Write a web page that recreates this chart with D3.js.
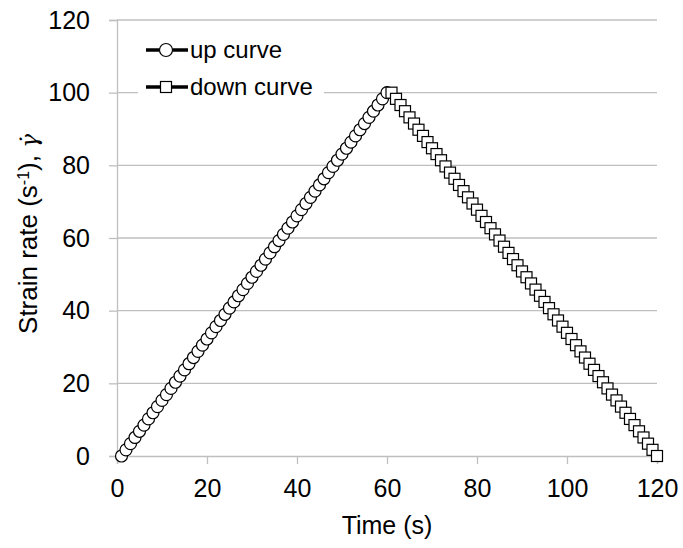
<!DOCTYPE html>
<html>
<head>
<meta charset="utf-8">
<script src="https://cdn.jsdelivr.net/npm/d3@7/dist/d3.min.js"></script>
<style>
  html, body { margin: 0; padding: 0; background: #fff; }
  svg { display: block; font-family: Arial, "Liberation Sans", sans-serif; }
</style>
</head>
<body>
<svg id="chart" width="683" height="548"></svg>
<script>
// Ramp test: shear rate ramps up to 100 s^-1 over 60 s, then back down.
const upTime = [1,2,3,4,5,6,7,8,9,10,11,12,13,14,15,16,17,18,19,20,21,22,23,24,25,26,27,28,29,30,
  31,32,33,34,35,36,37,38,39,40,41,42,43,44,45,46,47,48,49,50,51,52,53,54,55,56,57,58,59,60];
const upRate = [0,1.7,3.4,5.1,6.8,8.5,10.2,11.9,13.6,15.3,16.9,18.6,20.3,22,23.7,25.4,27.1,28.8,30.5,32.2,
  33.9,35.6,37.3,39,40.7,42.4,44.1,45.8,47.5,49.2,50.8,52.5,54.2,55.9,57.6,59.3,61,62.7,64.4,66.1,
  67.8,69.5,71.2,72.9,74.6,76.3,78,79.7,81.4,83.1,84.7,86.4,88.1,89.8,91.5,93.2,94.9,96.6,98.3,100];
const downTime = [61,62,63,64,65,66,67,68,69,70,71,72,73,74,75,76,77,78,79,80,81,82,83,84,85,86,87,88,89,90,
  91,92,93,94,95,96,97,98,99,100,101,102,103,104,105,106,107,108,109,110,111,112,113,114,115,116,117,118,119,120];
const downRate = [100,98.3,96.6,94.9,93.2,91.5,89.8,88.1,86.4,84.7,83.1,81.4,79.7,78,76.3,74.6,72.9,71.2,69.5,67.8,
  66.1,64.4,62.7,61,59.3,57.6,55.9,54.2,52.5,50.8,49.2,47.5,45.8,44.1,42.4,40.7,39,37.3,35.6,33.9,
  32.2,30.5,28.8,27.1,25.4,23.7,22,20.3,18.6,16.9,15.3,13.6,11.9,10.2,8.5,6.8,5.1,3.4,1.7,0];
const xTicks = [0,20,40,60,80,100,120];
const yTicks = [0,20,40,60,80,100,120];
const seriesNames = ["up curve", "down curve"];

const svg = d3.select("#chart");
const x = d3.scaleLinear().domain([0,120]).range([117,657]);
const y = d3.scaleLinear().domain([0,120]).range([456,20]);
const gridColor = "#bfbfbf";
const font = 25;

// horizontal gridlines
svg.append("g").selectAll("line").data(yTicks.filter(d => d > 0)).join("line")
  .attr("x1", x(0)).attr("x2", x(120))
  .attr("y1", d => y(d)).attr("y2", d => y(d))
  .attr("stroke", gridColor).attr("stroke-width", 1.3);

// y axis
const yAxis = svg.append("g").attr("transform", `translate(${x(0)},0)`)
  .call(d3.axisLeft(y).tickValues(yTicks).tickSize(8).tickPadding(19));
// x axis
const xAxis = svg.append("g").attr("transform", `translate(0,${y(0)})`)
  .call(d3.axisBottom(x).tickValues(xTicks).tickSize(8).tickPadding(15));
[yAxis, xAxis].forEach(g => {
  g.select(".domain").attr("stroke", gridColor).attr("stroke-width", 1.3);
  g.selectAll(".tick line").attr("stroke", gridColor).attr("stroke-width", 1.3);
  g.selectAll(".tick text").attr("fill", "#000").style("font-size", font + "px")
    .style("font-family", "Arial, 'Liberation Sans', sans-serif");
});

// axis titles
svg.append("text").attr("x", x(60)).attr("y", 534).attr("text-anchor", "middle")
  .style("font-size", font + "px").text("Time (s)");

const yt = svg.append("text")
  .attr("transform", `translate(37,${234}) rotate(-90)`)
  .attr("text-anchor", "middle").style("font-size", "26px");
yt.append("tspan").text("Strain rate (s");
yt.append("tspan").attr("baseline-shift", "super").style("font-size", "16px").text("-1");
yt.append("tspan").text("), ");
yt.append("tspan").style("font-style", "italic").style("font-family", "'DejaVu Serif', serif")
  .style("font-size", "23px").text("\u03B3\u0307");

// series
const up = upTime.map((t, i) => ({t, v: upRate[i]}));
const down = downTime.map((t, i) => ({t, v: downRate[i]}));
const line = d3.line().x(d => x(d.t)).y(d => y(d.v));

function drawSeries(data, shape) {
  const g = svg.append("g");
  g.append("path").datum(data).attr("d", line)
    .attr("fill", "none").attr("stroke", "#000").attr("stroke-width", 2.5);
  if (shape === "circle") {
    g.selectAll("circle").data(data).join("circle")
      .attr("cx", d => x(d.t)).attr("cy", d => y(d.v)).attr("r", 6)
      .attr("fill", "#fff").attr("stroke", "#000").attr("stroke-width", 1.2);
  } else {
    g.selectAll("rect").data(data).join("rect")
      .attr("x", d => x(d.t) - 5.5).attr("y", d => y(d.v) - 5.5)
      .attr("width", 11).attr("height", 11)
      .attr("fill", "#fff").attr("stroke", "#000").attr("stroke-width", 1.2);
  }
}
drawSeries(up, "circle");
drawSeries(down, "square");

// legend
const lg = svg.append("g");
lg.append("rect").attr("x", 138).attr("y", 30).attr("width", 186).attr("height", 76).attr("fill", "#fff");
seriesNames.forEach((name, i) => {
  const cy = 50 + i * 37;
  lg.append("line").attr("x1", 146).attr("x2", 188).attr("y1", cy).attr("y2", cy)
    .attr("stroke", "#000").attr("stroke-width", 3.5);
  if (i === 0) {
    lg.append("circle").attr("cx", 166).attr("cy", cy).attr("r", 6.5)
      .attr("fill", "#fff").attr("stroke", "#000").attr("stroke-width", 1.2);
  } else {
    lg.append("rect").attr("x", 160.5).attr("y", cy - 5.5).attr("width", 11).attr("height", 11)
      .attr("fill", "#fff").attr("stroke", "#000").attr("stroke-width", 1.2);
  }
  lg.append("text").attr("x", 190).attr("y", cy).attr("dy", "0.35em")
    .style("font-size", "24px").text(name);
});
</script>
</body>
</html>
